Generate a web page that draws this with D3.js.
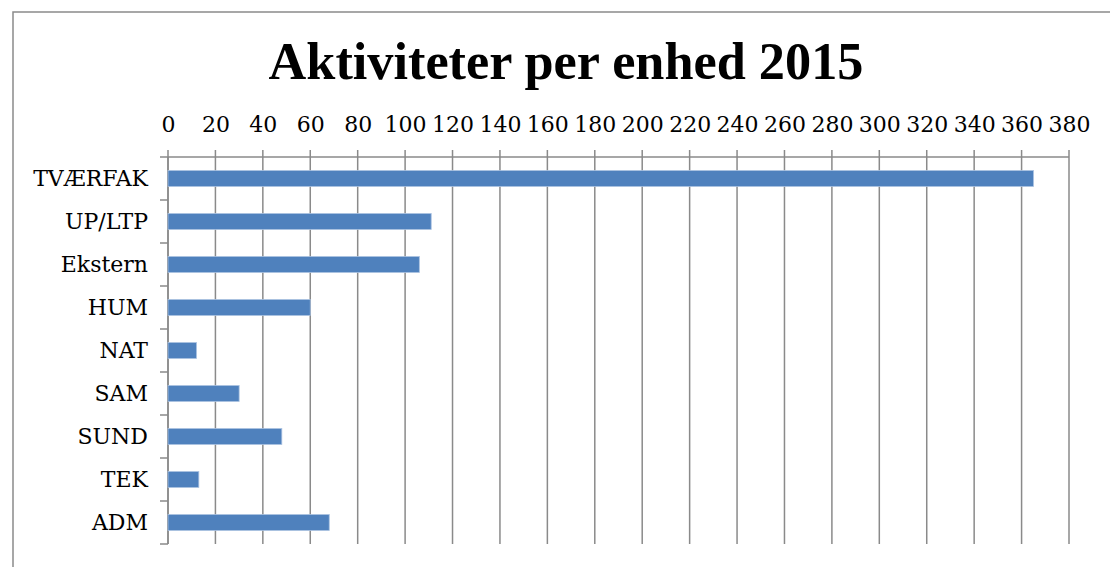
<!DOCTYPE html>
<html>
<head>
<meta charset="utf-8">
<script src="https://cdn.jsdelivr.net/npm/d3@7"></script>
<style>
  body { margin: 0; background: #fff; }
  svg { display: block; }
  .tick text { font-family: "DejaVu Serif", serif; font-size: 22px; fill: #000; }
</style>
</head>
<body>
<svg id="chart" width="1110" height="567"></svg>
<script>
// data
let units = ["TVÆRFAK", "UP/LTP", "Ekstern", "HUM", "NAT", "SAM", "SUND", "TEK", "ADM"];
let counts = [365, 111, 106, 60, 12, 30, 48, 13, 68];
let xTicks = d3.range(0, 381, 20);
let title = "Aktiviteter per enhed 2015";

let svg = d3.select("#chart");
let plotLeft = 168, plotRight = 1069, plotTop = 157, plotBottom = 544;

// outer frame (clipped by the window on right/bottom)
svg.append("rect")
  .attr("x", 13).attr("y", 12)
  .attr("width", 1110).attr("height", 600)
  .attr("fill", "none").attr("stroke", "#8a8a8a").attr("stroke-width", 1.5);

let x = d3.scaleLinear().domain([0, 380]).range([plotLeft, plotRight]);
let y = d3.scaleBand().domain(units).range([plotTop, plotBottom]).paddingInner(0.63).paddingOuter(0.315);

// vertical grid lines
svg.append("g").selectAll("line")
  .data(xTicks).enter()
  .append("line")
  .attr("x1", d => x(d)).attr("x2", d => x(d))
  .attr("y1", plotTop - 7).attr("y2", plotBottom)
  .attr("stroke", "#8a8a8a").attr("stroke-width", 1.5);

// top axis
let xAxis = svg.append("g")
  .attr("transform", `translate(0,${plotTop})`)
  .call(d3.axisTop(x).tickValues(xTicks).tickSize(0).tickPadding(25));
xAxis.select(".domain").remove();
svg.append("line")
  .attr("x1", plotLeft - 8).attr("x2", plotRight)
  .attr("y1", plotTop).attr("y2", plotTop)
  .attr("stroke", "#8a8a8a").attr("stroke-width", 1.5);

// left axis with ticks on band edges
let step = (plotBottom - plotTop) / units.length;
svg.append("line")
  .attr("x1", plotLeft).attr("x2", plotLeft)
  .attr("y1", plotTop).attr("y2", plotBottom)
  .attr("stroke", "#8a8a8a").attr("stroke-width", 1.5);
svg.append("g").selectAll("line")
  .data(d3.range(1, units.length + 1)).enter()
  .append("line")
  .attr("x1", plotLeft - 8).attr("x2", plotLeft)
  .attr("y1", i => plotTop + i * step).attr("y2", i => plotTop + i * step)
  .attr("stroke", "#8a8a8a").attr("stroke-width", 1.5);

let yAxis = svg.append("g")
  .attr("transform", `translate(${plotLeft},0)`)
  .call(d3.axisLeft(y).tickSize(0).tickPadding(20));
yAxis.select(".domain").remove();
yAxis.selectAll("text").attr("dy", "0.36em");

// bars
svg.append("g").selectAll("rect")
  .data(counts).enter()
  .append("rect")
  .attr("x", x(0))
  .attr("y", (d, i) => y(units[i]))
  .attr("width", d => x(d) - x(0))
  .attr("height", y.bandwidth())
  .attr("fill", "#4f81bd")
  .attr("stroke", "#a9c1e0")
  .attr("stroke-width", 0.8);

// title
let t = svg.append("text")
  .text(title)
  .attr("x", 566).attr("y", 79)
  .attr("text-anchor", "middle")
  .attr("font-family", "Liberation Serif, serif")
  .attr("font-weight", "bold")
  .attr("font-size", 48);
let w = t.node().getComputedTextLength();
t.attr("font-size", 48 * 595 / w);
</script>
</body>
</html>
